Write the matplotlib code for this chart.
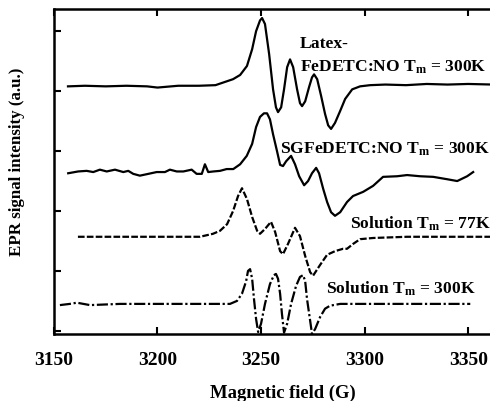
import matplotlib
matplotlib.use('Agg')
import matplotlib.pyplot as plt

plt.rcParams['font.family'] = ['Liberation Serif', 'DejaVu Serif']
plt.rcParams['font.weight'] = 'bold'
plt.rcParams['axes.labelweight'] = 'bold'
plt.rcParams['mathtext.default'] = 'regular'

# Latex-FeDETC:NO, 300K
latex_x = [3156.8, 3165, 3175, 3185, 3195, 3200, 3210, 3220, 3228, 3236.5, 3239.9, 3243.2,
           3245.7, 3247.6, 3249.5, 3250.5, 3251.9, 3253.9, 3255.8, 3257.2, 3258.2, 3259.7,
           3261.1, 3262.6, 3264.0, 3265.5, 3267.4, 3268.8, 3269.8, 3271.3, 3273.2, 3274.6,
           3275.6, 3277.1, 3279.0, 3280.9, 3282.4, 3283.8, 3285.7, 3288.2, 3290.6, 3294.0,
           3297.8, 3302.7, 3310, 3320, 3330, 3340, 3350, 3362]
latex_y = [4.08, 4.09, 4.08, 4.09, 4.08, 4.06, 4.09, 4.09, 4.10, 4.20, 4.27, 4.42,
           4.70, 5.00, 5.18, 5.22, 5.12, 4.62, 4.03, 3.73, 3.65, 3.73,
           4.03, 4.40, 4.53, 4.40, 4.03, 3.80, 3.75, 3.83, 4.07, 4.23,
           4.28, 4.20, 3.92, 3.62, 3.43, 3.37, 3.47, 3.67, 3.87, 4.03,
           4.08, 4.10, 4.11, 4.10, 4.12, 4.11, 4.12, 4.11]

# SGFeDETC:NO, 300K
sg_x = [3156.9, 3161.7, 3165.8, 3169.0, 3172.2, 3175.5, 3179.5, 3183.5, 3185.9, 3188.3,
        3191.5, 3195.6, 3199.6, 3203.6, 3206.0, 3209.3, 3212.5, 3216.5, 3218.9, 3221.4,
        3222.9, 3224.5, 3227.0, 3230.2, 3233.4, 3236.6, 3239.9, 3243.1, 3245.7, 3247.6,
        3249.5, 3251.4, 3252.9, 3254.3, 3255.8, 3257.7, 3259.2, 3260.6, 3262.1, 3264.5,
        3266.4, 3268.4, 3270.8, 3272.7, 3274.6, 3276.6, 3278.0, 3280.0, 3281.9, 3283.8,
        3285.7, 3288.2, 3291.5, 3294.4, 3299.3, 3304.1, 3308.9, 3315.7, 3320.5, 3326.8,
        3333.1, 3339.9, 3344.7, 3349.5, 3352.4]
sg_y = [2.63, 2.66, 2.67, 2.65, 2.69, 2.66, 2.69, 2.65, 2.67, 2.62,
        2.59, 2.62, 2.65, 2.65, 2.69, 2.66, 2.66, 2.69, 2.62, 2.62,
        2.78, 2.65, 2.66, 2.67, 2.70, 2.70, 2.78, 2.92, 3.12, 3.40,
        3.57, 3.63, 3.63, 3.53, 3.28, 3.00, 2.77, 2.75, 2.83, 2.92,
        2.78, 2.58, 2.43, 2.50, 2.63, 2.72, 2.63, 2.37, 2.15, 1.98,
        1.92, 1.98, 2.15, 2.25, 2.32, 2.42, 2.57, 2.58, 2.60, 2.58,
        2.57, 2.53, 2.50, 2.58, 2.65]

# Solution, 77K
s77_x = [3161.6, 3181.9, 3201.2, 3220.5, 3226.8, 3230.2, 3233.6, 3236.5, 3238.9, 3240.8,
         3243.2, 3245.7, 3248.1, 3249.5, 3251.9, 3254.8, 3256.8, 3259.2, 3260.6, 3263.0,
         3266.4, 3268.8, 3271.3, 3273.7, 3275.1, 3278.5, 3281.9, 3285.7, 3289.6, 3291.5,
         3294.4, 3297.8, 3304.1, 3320.5, 3341.3, 3362]
s77_y = [1.57, 1.57, 1.57, 1.57, 1.62, 1.67, 1.78, 2.00, 2.25, 2.38,
         2.20, 1.90, 1.67, 1.62, 1.70, 1.82, 1.65, 1.33, 1.28, 1.45,
         1.72, 1.58, 1.25, 0.98, 0.92, 1.10, 1.27, 1.33, 1.37, 1.37,
         1.45, 1.53, 1.55, 1.57, 1.57, 1.57]

# Solution, 300K
s300_x = [3152.9, 3157.7, 3161.1, 3167.4, 3181.9, 3201.2, 3220.5, 3235.0, 3238.4, 3240.8,
          3242.8, 3243.7, 3244.7, 3245.7, 3246.6, 3247.6, 3248.6, 3250.0, 3251.9, 3254.3,
          3256.2, 3257.2, 3258.2, 3259.2, 3260.1, 3261.1, 3262.6, 3264.5, 3266.9, 3268.8,
          3270.3, 3271.3, 3272.2, 3273.7, 3274.6, 3276.1, 3278.5, 3280.9, 3283.3, 3288.2,
          3317.1, 3351.0]
s300_y = [0.43, 0.45, 0.47, 0.43, 0.45, 0.45, 0.45, 0.45, 0.50, 0.62,
          0.83, 1.00, 1.03, 0.87, 0.53, 0.20, -0.02, 0.12, 0.45, 0.78,
          0.93, 0.95, 0.87, 0.62, 0.28, -0.03, 0.12, 0.45, 0.75, 0.90,
          0.93, 0.83, 0.53, 0.17, -0.05, 0.03, 0.23, 0.37, 0.42, 0.45,
          0.45, 0.45]

fig = plt.figure(figsize=(4.9, 4.02), dpi=100)
ax = fig.add_axes([0.110, 0.167, 0.892, 0.808])

ax.plot(latex_x, latex_y, color='black', lw=1.6)
ax.plot(sg_x, sg_y, color='black', lw=1.6)
ax.plot(s77_x, s77_y, color='black', lw=1.6, dashes=(3, 1))
ax.plot(s300_x, s300_y, color='black', lw=1.6, dashes=(5, 1.2, 1, 1.2))

fs = 12.6
ax.text(3268.8, 4.80, 'Latex-', fontsize=fs, va='center')
ax.text(3268.8, 4.42, r'FeDETC:NO T$_\mathregular{m}$ = 300K', fontsize=fs, va='center')
ax.text(3259.2, 3.05, r'SGFeDETC:NO T$_\mathregular{m}$ = 300K', fontsize=fs, va='center')
ax.text(3293.0, 1.80, r'Solution T$_\mathregular{m}$ = 77K', fontsize=fs, va='center')
ax.text(3281.4, 0.72, r'Solution T$_\mathregular{m}$ = 300K', fontsize=fs, va='center')

ax.set_xlim(3150, 3361)
ax.set_ylim(-0.05, 5.37)
ax.set_xticks([3150, 3200, 3250, 3300, 3350])
ax.set_yticks([0, 1, 2, 3, 4, 5])
ax.set_yticklabels([])
ax.tick_params(axis='both', direction='in', length=5, width=1.5, labelsize=14, top=True)
ax.tick_params(axis='x', pad=12)
ax.spines['right'].set_visible(False)
for s in ['left', 'bottom', 'top']:
    ax.spines[s].set_linewidth(1.8)

ax.set_xlabel('Magnetic field (G)', fontsize=13.4)
ax.xaxis.set_label_coords(0.523, -0.152)
ax.set_ylabel('EPR signal intensity (a.u.)', fontsize=12.2)
ax.yaxis.set_label_coords(-0.066, 0.532)

plt.savefig('out.png', dpi=100)
